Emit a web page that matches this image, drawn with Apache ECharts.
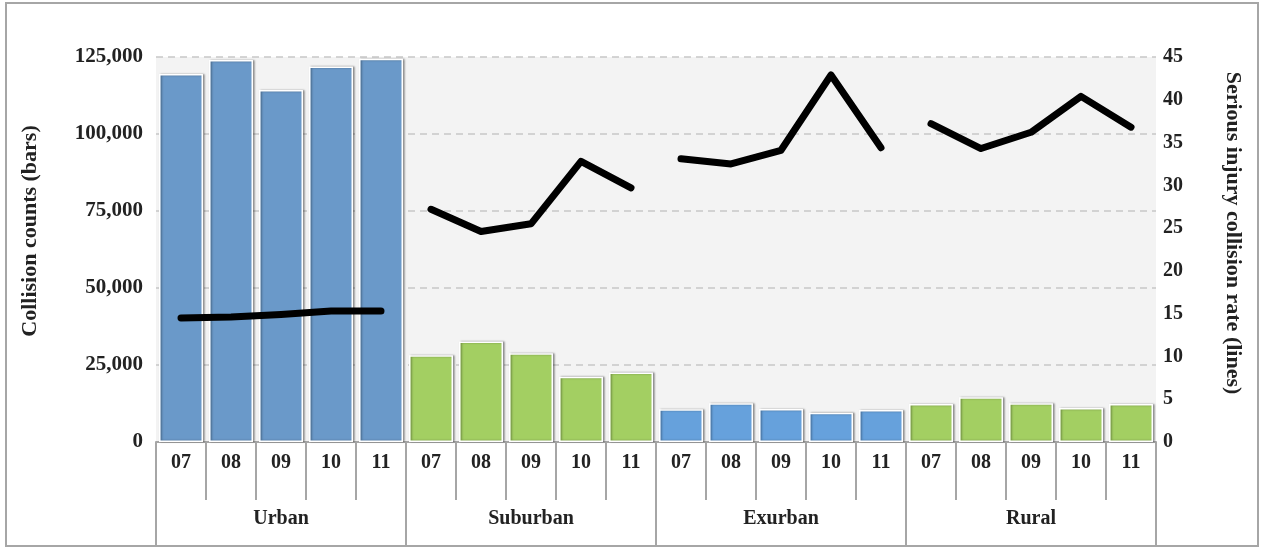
<!DOCTYPE html>
<html>
<head>
<meta charset="utf-8">
<script src="https://cdn.jsdelivr.net/npm/echarts@6/dist/echarts.min.js"></script>
<style>
html,body{margin:0;padding:0;background:#fff;}
#chart{width:1262px;height:548px;}
</style>
</head>
<body>
<div id="chart"></div>
<script>
var years = ['07', '08', '09', '10', '11'];
var groups = ['Urban', 'Suburban', 'Exurban', 'Rural'];
var countsUrban = [119500, 124000, 114300, 121900, 124400];
var countsSuburban = [28200, 32600, 28800, 21200, 22600];
var countsExurban = [10600, 12600, 10700, 9500, 10400];
var countsRural = [12300, 14500, 12600, 11000, 12300];
var rateUrban = [14.5, 14.6, 14.9, 15.3, 15.3];
var rateSuburban = [27.2, 24.6, 25.5, 32.8, 29.7];
var rateExurban = [33.1, 32.5, 34.1, 42.9, 34.4];
var rateRural = [37.2, 34.3, 36.2, 40.4, 36.8];
var leftTicks = [0, 25000, 50000, 75000, 100000, 125000];
var rightTicks = [0, 5, 10, 15, 20, 25, 30, 35, 40, 45];

var groupColors = ['#6a99c9', '#a3cf62', '#66a1dc', '#a3cf62'];
var countsAll = [countsUrban, countsSuburban, countsExurban, countsRural];
var ratesAll = [rateUrban, rateSuburban, rateExurban, rateRural];

var cats = [];
var barData = [];
groups.forEach(function (g, gi) {
  years.forEach(function (y, yi) {
    cats.push(y);
    barData.push({ value: countsAll[gi][yi], itemStyle: { color: groupColors[gi] } });
  });
});

var lineSeries = ratesAll.map(function (arr, gi) {
  var d = [];
  for (var i = 0; i < groups.length * years.length; i++) d.push('-');
  arr.forEach(function (v, yi) { d[gi * years.length + yi] = v; });
  return {
    type: 'line', xAxisIndex: 0, yAxisIndex: 1, data: d,
    symbol: 'none', connectNulls: false, z: 5,
    lineStyle: { color: '#000', width: 7, cap: 'round', join: 'round' }
  };
});

var font = 'Liberation Serif';
var chart = echarts.init(document.getElementById('chart'));
chart.setOption({
  animation: false,
  backgroundColor: '#fff',
  grid: { left: 156, right: 106, top: 57, height: 385, show: true, backgroundColor: '#f3f3f3', borderWidth: 0 },
  xAxis: [
    {
      type: 'category', data: cats, position: 'bottom',
      axisLine: { show: true, lineStyle: { color: '#a6a6a6', width: 2 } },
      axisTick: { show: true, interval: 0, length: 58, lineStyle: { color: '#a6a6a6', width: 2 } },
      axisLabel: { interval: 0, margin: 11, color: '#222', fontFamily: font, fontWeight: 'bold', fontSize: 20 }
    },
    {
      type: 'category', data: groups, position: 'bottom', offset: 0,
      axisLine: { show: false },
      axisTick: { show: true, interval: 0, length: 104, lineStyle: { color: '#a6a6a6', width: 2 } },
      axisLabel: { interval: 0, margin: 67, color: '#222', fontFamily: font, fontWeight: 'bold', fontSize: 20 }
    }
  ],
  yAxis: [
    {
      type: 'value', min: leftTicks[0], max: leftTicks[leftTicks.length - 1], interval: 25000,
      axisLine: { show: false }, axisTick: { show: false },
      axisLabel: {
        margin: 13, color: '#222', fontFamily: font, fontWeight: 'bold', fontSize: 21,
        formatter: function (v) { return v.toLocaleString('en-US'); }
      },
      splitLine: { show: true, lineStyle: { color: '#c8c8c8', width: 1.5, type: [7, 5] } }
    },
    {
      type: 'value', min: rightTicks[0], max: rightTicks[rightTicks.length - 1], interval: 5,
      position: 'right',
      axisLine: { show: false }, axisTick: { show: false },
      axisLabel: { margin: 7, color: '#222', fontFamily: font, fontWeight: 'bold', fontSize: 20 },
      splitLine: { show: false }
    }
  ],
  series: [
    {
      type: 'bar', xAxisIndex: 0, yAxisIndex: 0, data: barData, barCategoryGap: '12%', z: 2,
      itemStyle: { borderColor: '#fff', borderWidth: 1.5, shadowColor: 'rgba(0,0,0,0.35)', shadowBlur: 2, shadowOffsetX: 1.5 }
    }
  ].concat(lineSeries),
  graphic: [
    {
      type: 'rect', z: 100, silent: true,
      shape: { x: 6, y: 3, width: 1252, height: 543 },
      style: { fill: 'none', stroke: '#a6a6a6', lineWidth: 2 }
    },
    {
      type: 'text', x: 30, y: 231, rotation: Math.PI / 2, z: 100,
      style: { text: 'Collision counts (bars)', fill: '#222', font: 'bold 22px "Liberation Serif"', textAlign: 'center', textVerticalAlign: 'middle' }
    },
    {
      type: 'text', x: 1233, y: 233, rotation: -Math.PI / 2, z: 100,
      style: { text: 'Serious injury collision rate (lines)', fill: '#222', font: 'bold 22px "Liberation Serif"', textAlign: 'center', textVerticalAlign: 'middle' }
    }
  ]
});
</script>
</body>
</html>
